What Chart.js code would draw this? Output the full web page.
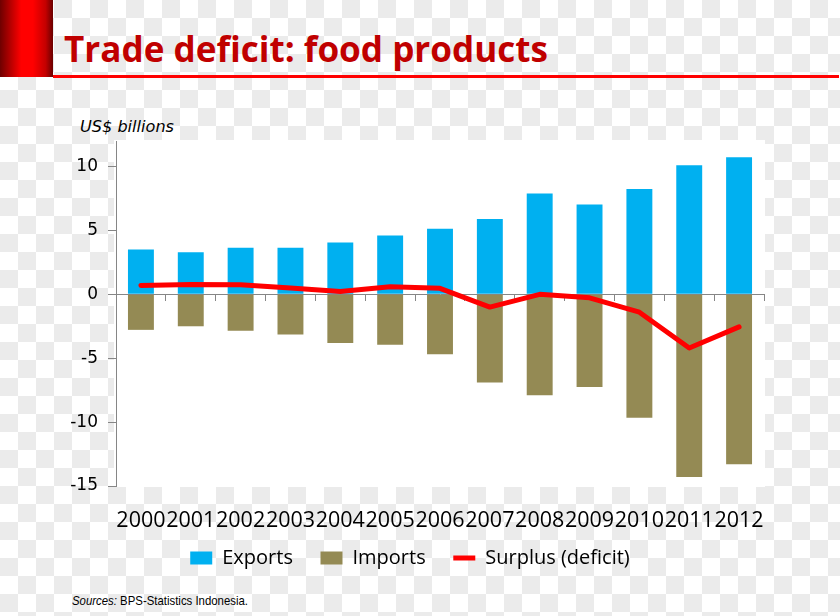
<!DOCTYPE html>
<html>
<head>
<meta charset="utf-8">
<title>Trade deficit: food products</title>
<script src="https://cdn.jsdelivr.net/npm/chart.js@4.4.0/dist/chart.umd.min.js"></script>
<style>
  html, body { margin: 0; padding: 0; }
  body {
    width: 840px; height: 616px; position: relative; overflow: hidden;
    background-color: #fff;
    background-image: conic-gradient(#ebebeb 0 25%, #fff 0 50%, #ebebeb 0 75%, #fff 0);
    background-size: 36px 36px;
  }
  #redBlock {
    position: absolute; left: 0; top: 0; width: 53px; height: 77px;
    background: linear-gradient(to right, #6e0000 0%, #ff0000 40%, #ff0000 62%, #c40000 86%, #6a0000 100%);
  }
  #rule { position: absolute; left: 53px; top: 75px; width: 786px; height: 3px; background: #ff0000; }
  .txt { position: absolute; white-space: nowrap; line-height: 1; transform-origin: left top; }
  #title { left: 64px; top: 24px; font: bold 36px "Open Sans", sans-serif; color: #c00000; }
  #unit { left: 80px; top: 118px; font: italic 15px "DejaVu Sans", sans-serif; color: #000; }
  #source { left: 72px; top: 593px; font: 13px "Liberation Sans Narrow", "Liberation Sans", sans-serif; color: #000; }
  #chart { position: absolute; left: 0; top: 0; }
</style>
</head>
<body>
<div id="redBlock"></div>
<div id="rule"></div>
<div id="title" class="txt">Trade deficit: food products</div>
<div id="unit" class="txt">US$ billions</div>
<div id="source" class="txt"><i>Sources:</i> BPS-Statistics Indonesia.</div>
<canvas id="chart" width="840" height="616"></canvas>
<script>
// Values (US$ billions)
const years = ['2000', '2001', '2002', '2003', '2004', '2005', '2006', '2007', '2008', '2009', '2010', '2011', '2012'];
const exportsData = [3.5, 3.3, 3.65, 3.65, 4.05, 4.6, 5.13, 5.9, 7.9, 7.03, 8.25, 10.1, 10.73];
const importsData = [-2.78, -2.5, -2.85, -3.15, -3.8, -3.95, -4.68, -6.9, -7.9, -7.25, -9.65, -14.3, -13.3];
const surplusData = [0.7, 0.77, 0.75, 0.5, 0.22, 0.6, 0.47, -1.0, 0.0, -0.27, -1.4, -4.2, -2.55];
const yTicks = [-15, -10, -5, 0, 5, 10];

// Stretch a text box to the width it has in the picture
function fitWidth(id, w) {
    const el = document.getElementById(id);
    const r = el.getBoundingClientRect().width;
    el.style.transform = 'scaleX(' + (w / r) + ')';
}
fitWidth('title', 484);
fitWidth('unit', 94);
fitWidth('source', 176);

// White panel behind the plot
const plotBg = {
    id: 'plotBg',
    beforeDraw(chart) {
        const { ctx, chartArea: a } = chart;
        ctx.save();
        ctx.fillStyle = '#ffffff';
        ctx.fillRect(a.left - 2, a.top - 1, a.right - a.left + 3, a.bottom - a.top + 2);
        ctx.restore();
    }
};

const axisGrey = '#868686';

new Chart(document.getElementById('chart').getContext('2d'), {
    type: 'bar',
    data: {
        labels: years,
        datasets: [
            {
                label: 'Exports',
                data: exportsData,
                backgroundColor: '#00b0f0',
                borderWidth: 0,
                pointStyle: 'rect',
                categoryPercentage: 1,
                barPercentage: 0.52,
                order: 1
            },
            {
                label: 'Imports',
                data: importsData,
                backgroundColor: '#948a54',
                borderWidth: 0,
                pointStyle: 'rect',
                categoryPercentage: 1,
                barPercentage: 0.52,
                order: 1
            },
            {
                type: 'line',
                label: 'Surplus (deficit)',
                data: surplusData,
                borderColor: '#ff0000',
                backgroundColor: '#ff0000',
                borderWidth: 5,
                borderCapStyle: 'round',
                borderJoinStyle: 'round',
                pointRadius: 0,
                pointStyle: 'line',
                tension: 0,
                order: 0
            }
        ]
    },
    options: {
        responsive: false,
        animation: false,
        layout: { padding: { left: 56, right: 76, top: 141, bottom: 38 } },
        plugins: {
            tooltip: { enabled: false },
            legend: {
                position: 'bottom',
                labels: {
                    usePointStyle: true,
                    pointStyleWidth: 22,
                    boxHeight: 13,
                    padding: 12,
                    color: '#000',
                    font: { family: 'Open Sans', size: 20 },
                    sort: (a, b) => a.datasetIndex - b.datasetIndex,
                    // a little extra room between the legend entries
                    generateLabels: chart => {
                        const items = Chart.defaults.plugins.legend.labels.generateLabels(chart);
                        items.forEach(it => { if (it.datasetIndex < 2) it.text += '   '; });
                        return items;
                    }
                }
            }
        },
        scales: {
            x: {
                stacked: true,
                grid: { display: false, drawTicks: false },
                border: { display: false },
                ticks: {
                    autoSkip: false, maxRotation: 0, minRotation: 0,
                    padding: 22,
                    color: '#000',
                    font: { family: 'Open Sans', size: 21.5 }
                },
                afterFit: s => { s.height = 50; }
            },
            x0: {
                type: 'category',
                position: { y: 0 },
                offset: true,
                grid: { offset: true, drawOnChartArea: false, drawTicks: true, tickLength: 6, color: axisGrey },
                border: { display: true, color: axisGrey, width: 1 },
                ticks: { display: false }
            },
            y: {
                stacked: true,
                min: -15,
                max: 12,
                afterBuildTicks: s => { s.ticks = yTicks.map(v => ({ value: v })); },
                grid: { drawOnChartArea: false, drawTicks: true, tickLength: 8, color: axisGrey },
                border: { display: true, color: axisGrey, width: 1 },
                ticks: {
                    padding: 10,
                    color: '#000',
                    font: { family: 'DejaVu Sans', size: 17 }
                },
                afterFit: s => { s.width = 60; }
            }
        }
    },
    plugins: [plotBg]
});
</script>
</body>
</html>
